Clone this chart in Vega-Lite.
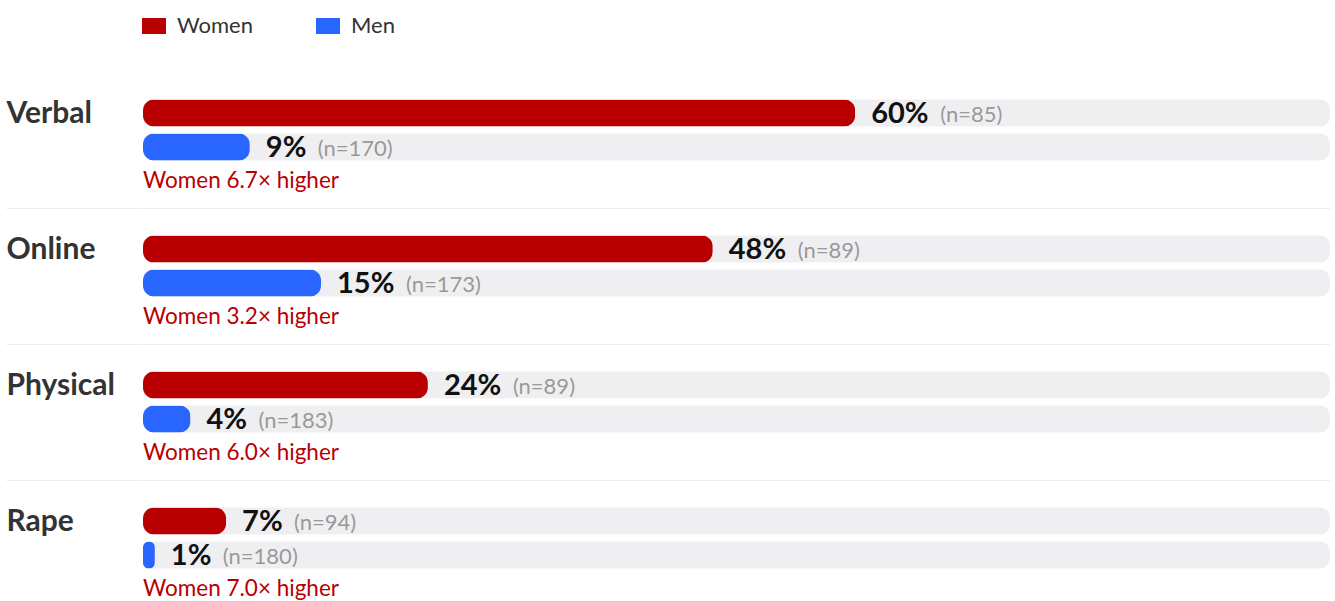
{
  "$schema": "https://vega.github.io/schema/vega-lite/v6.json",
  "width": 1187,
  "height": 505,
  "autosize": "none",
  "padding": {"left": 143, "top": 96, "right": 5, "bottom": 0},
  "background": "white",
  "config": {"font": "Lato", "view": {"stroke": null}},
  "datasets": {
    "bars": [
      {"category": "Verbal", "gender": "Women", "pct": 60, "n": 85},
      {"category": "Verbal", "gender": "Men", "pct": 9, "n": 170},
      {"category": "Online", "gender": "Women", "pct": 48, "n": 89},
      {"category": "Online", "gender": "Men", "pct": 15, "n": 173},
      {"category": "Physical", "gender": "Women", "pct": 24, "n": 89},
      {"category": "Physical", "gender": "Men", "pct": 4, "n": 183},
      {"category": "Rape", "gender": "Women", "pct": 7, "n": 94},
      {"category": "Rape", "gender": "Men", "pct": 1, "n": 180}
    ],
    "notes": [
      {"category": "Verbal", "ratio": 6.7},
      {"category": "Online", "ratio": 3.2},
      {"category": "Physical", "ratio": 6.0},
      {"category": "Rape", "ratio": 7.0}
    ]
  },
  "encoding": {
    "y": {
      "field": "slot",
      "type": "nominal",
      "scale": {
        "domain": [
          "Verbal|Women", "Verbal|Men", "Verbal|note", "Verbal|gap",
          "Online|Women", "Online|Men", "Online|note", "Online|gap",
          "Physical|Women", "Physical|Men", "Physical|note", "Physical|gap",
          "Rape|Women", "Rape|Men", "Rape|note"
        ],
        "range": [0, 510],
        "paddingInner": 0,
        "paddingOuter": 0
      },
      "axis": {
        "title": null,
        "domain": false,
        "ticks": true,
        "tickSize": 137,
        "tickWidth": 1,
        "tickColor": {"condition": {"test": "indexof(datum.value, 'gap') >= 0", "value": "#eeeeee"}, "value": "transparent"},
        "grid": true,
        "gridWidth": 1,
        "gridColor": {"condition": {"test": "indexof(datum.value, 'gap') >= 0", "value": "#eeeeee"}, "value": "transparent"},
        "bandPosition": 0.3,
        "labelExpr": "split(datum.value, '|')[1] == 'Women' ? split(datum.value, '|')[0] : ''",
        "labelAlign": "left",
        "labelBaseline": "middle",
        "labelPadding": 0,
        "labelOffset": 1,
        "labelOverlap": false,
        "labelFont": "Lato",
        "labelFontSize": 30,
        "labelFontWeight": "bold",
        "labelColor": "#333333"
      }
    }
  },
  "layer": [
    {
      "data": {"name": "bars"},
      "transform": [{"calculate": "datum.category + '|' + datum.gender", "as": "slot"}],
      "mark": {"type": "bar", "color": "#efeff1", "cornerRadius": 10, "height": {"band": 0.8}},
      "encoding": {
        "x": {"datum": 0, "type": "quantitative", "scale": {"domain": [0, 100], "nice": false}, "axis": null},
        "x2": {"datum": 100}
      }
    },
    {
      "data": {"name": "bars"},
      "transform": [{"calculate": "datum.category + '|' + datum.gender", "as": "slot"}],
      "mark": {"type": "bar", "cornerRadius": 11, "height": {"band": 0.8}},
      "encoding": {
        "x": {"field": "pct", "type": "quantitative", "scale": {"domain": [0, 100], "nice": false}, "axis": null},
        "color": {
          "field": "gender",
          "type": "nominal",
          "scale": {"domain": ["Women", "Men"], "range": ["#b80000", "#2966ff"]},
          "legend": {
            "title": null,
            "orient": "none",
            "legendX": 0,
            "legendY": -81,
            "direction": "horizontal",
            "symbolType": "M-1.5,-1L1.5,-1L1.5,1L-1.5,1Z",
            "symbolSize": 256,
            "symbolStrokeWidth": 0,
            "symbolOpacity": 1,
            "labelFont": "Lato",
            "labelFontSize": 22,
            "labelColor": "#333333",
            "labelOffset": 12,
            "columnPadding": 63
          }
        }
      }
    },
    {
      "data": {"name": "bars"},
      "transform": [
        {"calculate": "datum.category + '|' + datum.gender", "as": "slot"},
        {"calculate": "datum.pct + '%'", "as": "label"}
      ],
      "mark": {"type": "text", "align": "left", "baseline": "middle", "dx": 16, "dy": 1, "font": "Lato", "fontSize": 29, "fontWeight": "bold", "color": "#111111"},
      "encoding": {
        "x": {"field": "pct", "type": "quantitative"},
        "text": {"field": "label"}
      }
    },
    {
      "data": {"name": "bars"},
      "transform": [
        {"filter": "datum.pct >= 10"},
        {"calculate": "datum.category + '|' + datum.gender", "as": "slot"},
        {"calculate": "'(n=' + datum.n + ')'", "as": "nlabel"}
      ],
      "mark": {"type": "text", "align": "left", "baseline": "middle", "dx": 85, "dy": 2, "font": "Lato", "fontSize": 22, "color": "#999999"},
      "encoding": {
        "x": {"field": "pct", "type": "quantitative"},
        "text": {"field": "nlabel"}
      }
    },
    {
      "data": {"name": "bars"},
      "transform": [
        {"filter": "datum.pct < 10"},
        {"calculate": "datum.category + '|' + datum.gender", "as": "slot"},
        {"calculate": "'(n=' + datum.n + ')'", "as": "nlabel"}
      ],
      "mark": {"type": "text", "align": "left", "baseline": "middle", "dx": 68, "dy": 2, "font": "Lato", "fontSize": 22, "color": "#999999"},
      "encoding": {
        "x": {"field": "pct", "type": "quantitative"},
        "text": {"field": "nlabel"}
      }
    },
    {
      "data": {"name": "notes"},
      "transform": [
        {"calculate": "datum.category + '|note'", "as": "slot"},
        {"calculate": "'Women ' + format(datum.ratio, '.1f') + '× higher'", "as": "note"}
      ],
      "mark": {"type": "text", "align": "left", "baseline": "middle", "font": "Lato", "fontSize": 22.5, "color": "#b80000"},
      "encoding": {
        "x": {"datum": 0, "type": "quantitative"},
        "text": {"field": "note"}
      }
    }
  ]
}
